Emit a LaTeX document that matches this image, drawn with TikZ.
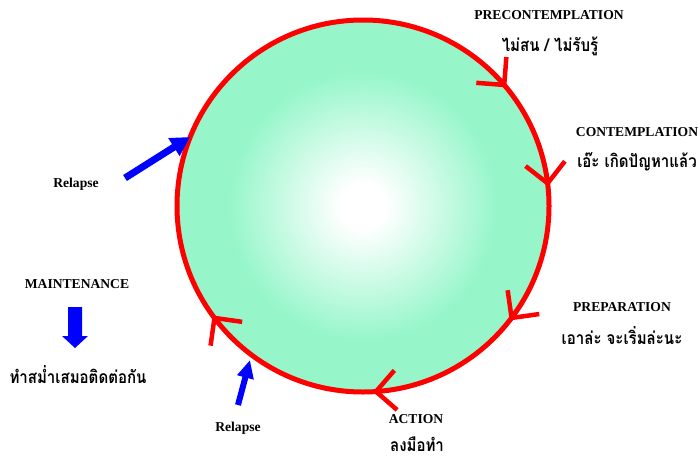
\documentclass[tikz,border=0pt]{standalone}
\usepackage{fontspec}
\setmainfont{Liberation Serif}
\newfontfamily\thaifont[Script=Thai,FakeStretch=0.86]{Loma}
\usetikzlibrary{arrows.meta,calc}
\definecolor{aqua}{RGB}{150,246,202}
\pgfdeclareradialshading{cycshade}{\pgfpoint{0bp}{0bp}}{color(0bp)=(white); color(3bp)=(white); color(18bp)=(aqua); color(25bp)=(aqua); color(50bp)=(aqua)}
\begin{document}
\begin{tikzpicture}[x=1pt,y=-1pt,
  lat/.style={font=\bfseries\fontsize{13.6}{16}\selectfont, anchor=base, inner sep=0pt},
  thai/.style={font=\thaifont\bfseries\fontsize{17.5}{20}\selectfont, anchor=base, inner sep=0pt},
  cycline/.style={draw=red, line width=5pt},
  chev/.style={draw=red, line width=4.5pt},
  relarrow/.style={draw=blue, line width=7pt, -{Triangle[length=19pt,width=20pt]}}]
\useasboundingbox (0,0) rectangle (700,458);
\coordinate (c) at (363,206);
\shade[shading=cycshade] (c) circle[radius=186];
\draw[cycline] (c) circle[radius=186];
\foreach \a/\n in {-40.6/1, -7/2, 37/3, 86/4, 143/5} {
  \coordinate (v\n) at ($(c)+(\a:186)$);
  \draw[chev] ($(v\n)+(\a-45:28)$) -- (v\n) -- ($(v\n)+(\a-135:28)$);
}
% relapse arrows
\coordinate (r1s) at (125,178);
\coordinate (r1e) at (190,137);
\draw[relarrow] (r1s) -- (r1e);
\coordinate (r2s) at (238,405);
\coordinate (r2e) at (250,360);
\draw[relarrow, line width=6pt, -{Triangle[length=18pt,width=16pt]}] (r2s) -- (r2e);
% maintenance block arrow
\fill[blue] (68,307) -- (82,307) -- (82,336) -- (88,336) -- (75,348) -- (62,336) -- (68,336) -- cycle;
% labels
\node[lat] (pre) at (549,19.5) {PRECONTEMPLATION};
\node[thai] (pret) at (550,51) {ไม่สน / ไม่รับรู้};
\node[lat] (con) at (637,136) {CONTEMPLATION};
\node[thai] (cont) at (637,167) {เอ๊ะ เกิดปัญหาแล้ว};
\node[lat] (prep) at (622,311.5) {PREPARATION};
\node[thai] (prept) at (622,344) {เอาล่ะ จะเริ่มล่ะนะ};
\node[lat] (act) at (416,423.5) {ACTION};
\node[thai] (actt) at (417,451) {ลงมือทำ};
\node[lat] (main) at (77,288) {MAINTENANCE};
\node[thai] (maint) at (78,383) {ทำสม่ำเสมอติดต่อกัน};
\node[lat] (rel1) at (76,187) {Relapse};
\node[lat] (rel2) at (238,431) {Relapse};
\end{tikzpicture}
\end{document}
